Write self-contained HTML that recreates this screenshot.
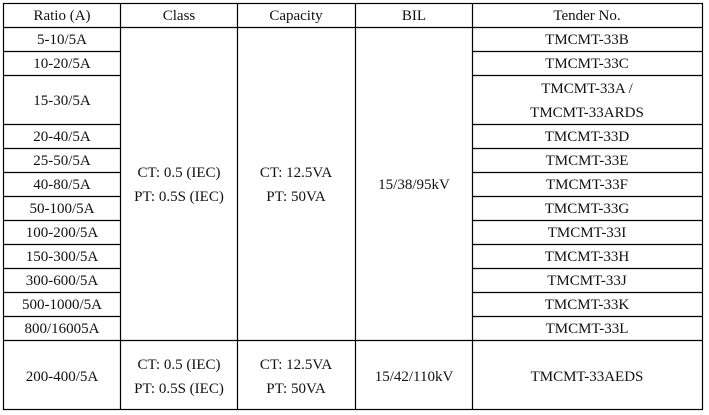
<!DOCTYPE html>
<html><head><meta charset="utf-8"><style>
html,body{margin:0;padding:0;background:#fff;}
svg{display:block;}
text{font-family:"Liberation Serif",serif;font-size:15px;fill:#111;text-anchor:middle;}
</style></head><body>
<svg width="709" height="415" xmlns="http://www.w3.org/2000/svg">
<g stroke="#000" stroke-width="1.2" fill="none">
<rect x="3.5" y="3.5" width="699" height="406"/>
<line x1="120.5" y1="3" x2="120.5" y2="410"/>
<line x1="237.5" y1="3" x2="237.5" y2="410"/>
<line x1="355.5" y1="3" x2="355.5" y2="410"/>
<line x1="472.5" y1="3" x2="472.5" y2="410"/>
<line x1="3" y1="27.5" x2="703" y2="27.5"/>
<line x1="3" y1="340.5" x2="703" y2="340.5"/>
<g>
<line x1="3" y1="51.5" x2="120" y2="51.5"/><line x1="472" y1="51.5" x2="703" y2="51.5"/>
<line x1="3" y1="75.5" x2="120" y2="75.5"/><line x1="472" y1="75.5" x2="703" y2="75.5"/>
<line x1="3" y1="124.5" x2="120" y2="124.5"/><line x1="472" y1="124.5" x2="703" y2="124.5"/>
<line x1="3" y1="148.5" x2="120" y2="148.5"/><line x1="472" y1="148.5" x2="703" y2="148.5"/>
<line x1="3" y1="172.5" x2="120" y2="172.5"/><line x1="472" y1="172.5" x2="703" y2="172.5"/>
<line x1="3" y1="196.5" x2="120" y2="196.5"/><line x1="472" y1="196.5" x2="703" y2="196.5"/>
<line x1="3" y1="220.5" x2="120" y2="220.5"/><line x1="472" y1="220.5" x2="703" y2="220.5"/>
<line x1="3" y1="244.5" x2="120" y2="244.5"/><line x1="472" y1="244.5" x2="703" y2="244.5"/>
<line x1="3" y1="268.5" x2="120" y2="268.5"/><line x1="472" y1="268.5" x2="703" y2="268.5"/>
<line x1="3" y1="292.5" x2="120" y2="292.5"/><line x1="472" y1="292.5" x2="703" y2="292.5"/>
<line x1="3" y1="316.5" x2="120" y2="316.5"/><line x1="472" y1="316.5" x2="703" y2="316.5"/>
</g>
</g>
<text x="62" y="20">Ratio (A)</text>
<text x="179" y="20">Class</text>
<text x="296" y="20">Capacity</text>
<text x="414" y="20">BIL</text>
<text x="587" y="20">Tender No.</text>

<text x="62" y="44">5-10/5A</text><text x="587" y="44">TMCMT-33B</text>
<text x="62" y="68">10-20/5A</text><text x="587" y="68">TMCMT-33C</text>
<text x="62" y="105">15-30/5A</text><text x="587" y="93">TMCMT-33A /</text><text x="587" y="117">TMCMT-33ARDS</text>
<text x="62" y="141">20-40/5A</text><text x="587" y="141">TMCMT-33D</text>
<text x="62" y="165">25-50/5A</text><text x="587" y="165">TMCMT-33E</text>
<text x="62" y="189">40-80/5A</text><text x="587" y="189">TMCMT-33F</text>
<text x="62" y="213">50-100/5A</text><text x="587" y="213">TMCMT-33G</text>
<text x="62" y="237">100-200/5A</text><text x="587" y="237">TMCMT-33I</text>
<text x="62" y="261">150-300/5A</text><text x="587" y="261">TMCMT-33H</text>
<text x="62" y="285">300-600/5A</text><text x="587" y="285">TMCMT-33J</text>
<text x="62" y="309">500-1000/5A</text><text x="587" y="309">TMCMT-33K</text>
<text x="62" y="333">800/16005A</text><text x="587" y="333">TMCMT-33L</text>

<text x="179" y="177">CT: 0.5 (IEC)</text><text x="179" y="201">PT: 0.5S (IEC)</text>
<text x="296" y="177">CT: 12.5VA</text><text x="296" y="201">PT: 50VA</text>
<text x="414" y="189">15/38/95kV</text>

<text x="62" y="381">200-400/5A</text>
<text x="179" y="369">CT: 0.5 (IEC)</text><text x="179" y="393">PT: 0.5S (IEC)</text>
<text x="296" y="369">CT: 12.5VA</text><text x="296" y="393">PT: 50VA</text>
<text x="414" y="381">15/42/110kV</text>
<text x="587" y="381">TMCMT-33AEDS</text>
</svg>
</body></html>
